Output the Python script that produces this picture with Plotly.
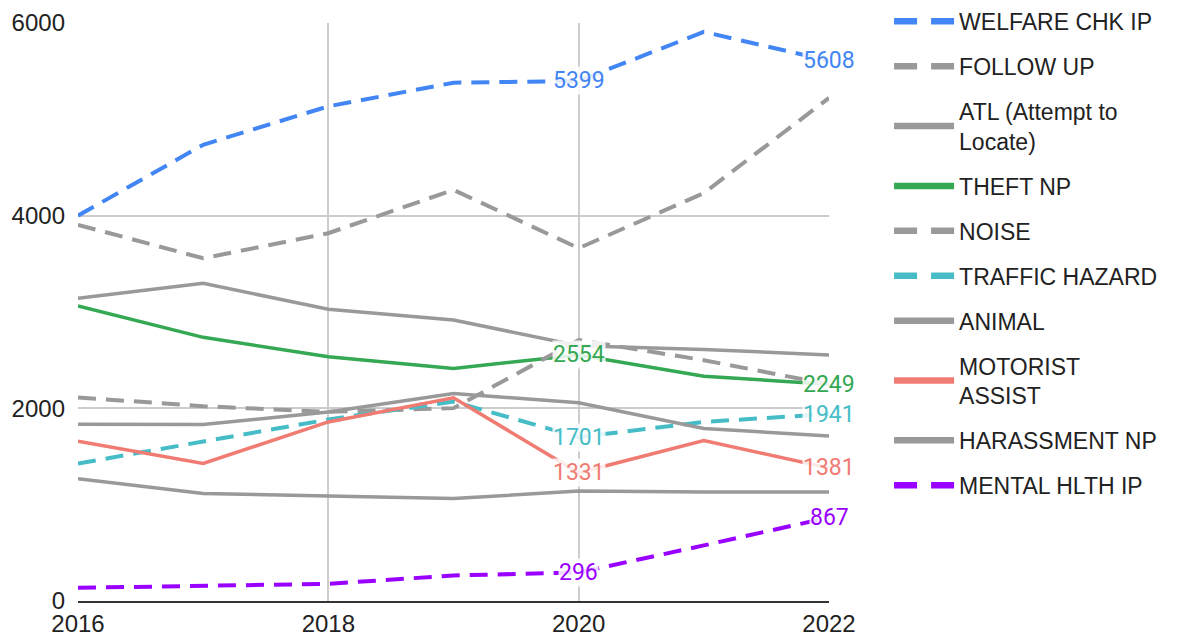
import plotly.graph_objects as go

years = [2016, 2017, 2018, 2019, 2020, 2021, 2022]

welfare_chk_ip = [4000, 4736, 5135, 5380, 5399, 5908, 5608]
follow_up = [3905, 3558, 3818, 4268, 3662, 4234, 5222]
atl = [3142, 3298, 3028, 2917, 2650, 2612, 2553]
theft_np = [3062, 2737, 2535, 2414, 2554, 2334, 2249]
noise = [2113, 2022, 1963, 2002, 2709, 2500, 2249]
traffic_hazard = [1427, 1651, 1884, 2070, 1701, 1859, 1941]
animal = [1835, 1832, 1963, 2154, 2057, 1790, 1714]
motorist_assist = [1658, 1427, 1859, 2109, 1331, 1666, 1381]
harassment_np = [1270, 1115, 1090, 1063, 1142, 1132, 1132]
mental_hlth_ip = [137, 154, 178, 265, 296, 577, 867]

series = [
    ("WELFARE CHK IP", welfare_chk_ip, "#4285f4", True, True),
    ("FOLLOW UP", follow_up, "#999999", True, False),
    ("ATL (Attempt to<br>Locate)", atl, "#999999", False, False),
    ("THEFT NP", theft_np, "#34a853", False, True),
    ("NOISE", noise, "#999999", True, False),
    ("TRAFFIC HAZARD", traffic_hazard, "#46bdc6", True, True),
    ("ANIMAL", animal, "#999999", False, False),
    ("MOTORIST<br>ASSIST", motorist_assist, "#f07b72", False, True),
    ("HARASSMENT NP", harassment_np, "#999999", False, False),
    ("MENTAL HLTH IP", mental_hlth_ip, "#9900ff", True, True),
]
label_years = [2020, 2022]

fig = go.Figure()
annotations = []
for i, (name, vals, color, dashed, labeled) in enumerate(series):
    fig.add_trace(go.Scatter(
        x=years, y=vals, name=name, mode="lines",
        legendgroup=f"g{i}", showlegend=False,
        line=dict(color=color, width=4 if dashed else 3.5,
                  dash="18px,10px" if dashed else "solid"),
        hoverinfo="x+y+name",
    ))
    # legend entry with a thicker sample line
    fig.add_trace(go.Scatter(
        x=[None], y=[None], name=name, mode="lines",
        legendgroup=f"g{i}", showlegend=True,
        line=dict(color=color, width=6.5,
                  dash="23px,14px" if dashed else "solid"),
        hoverinfo="skip",
    ))
    if labeled:
        for yr in label_years:
            v = vals[years.index(yr)]
            annotations.append(dict(
                x=yr, y=v, xref="x", yref="y", text=str(v), showarrow=False,
                xanchor="center", yanchor="middle",
                font=dict(family="Roboto", size=23, color=color),
                bgcolor="rgba(255,255,255,0.85)", borderpad=0,
            ))

tickfont = dict(family="Liberation Sans, Arial", size=24, color="#222222")

fig.update_layout(
    width=1173, height=627,
    margin=dict(l=70, r=352, t=15, b=34, autoexpand=False),
    paper_bgcolor="white", plot_bgcolor="white",
    font=dict(family="Liberation Sans, Arial", size=24, color="#222222"),
    annotations=annotations,
    showlegend=True,
    legend=dict(
        x=1.08, xanchor="left", y=1.04, yanchor="top",
        font=dict(family="Liberation Sans, Arial", size=23, color="#222222"),
        traceorder="grouped", tracegroupgap=12,
        itemwidth=60, bgcolor="rgba(0,0,0,0)", maxheight=1.0,
    ),
    xaxis=dict(
        range=[2016, 2022], tickvals=[2016, 2018, 2020, 2022],
        showgrid=True, gridcolor="#cccccc", gridwidth=1.5,
        zeroline=False, showline=True, linecolor="#333333", linewidth=2,
        ticks="", tickfont=tickfont,
    ),
    yaxis=dict(
        range=[0, 6000], tickvals=[0, 2000, 4000, 6000],
        showgrid=True, gridcolor="#cccccc", gridwidth=1.5,
        zeroline=False, showline=False, ticks="",
        tickfont=tickfont, ticklabelstandoff=12,
    ),
)

fig.write_html("out.html")
